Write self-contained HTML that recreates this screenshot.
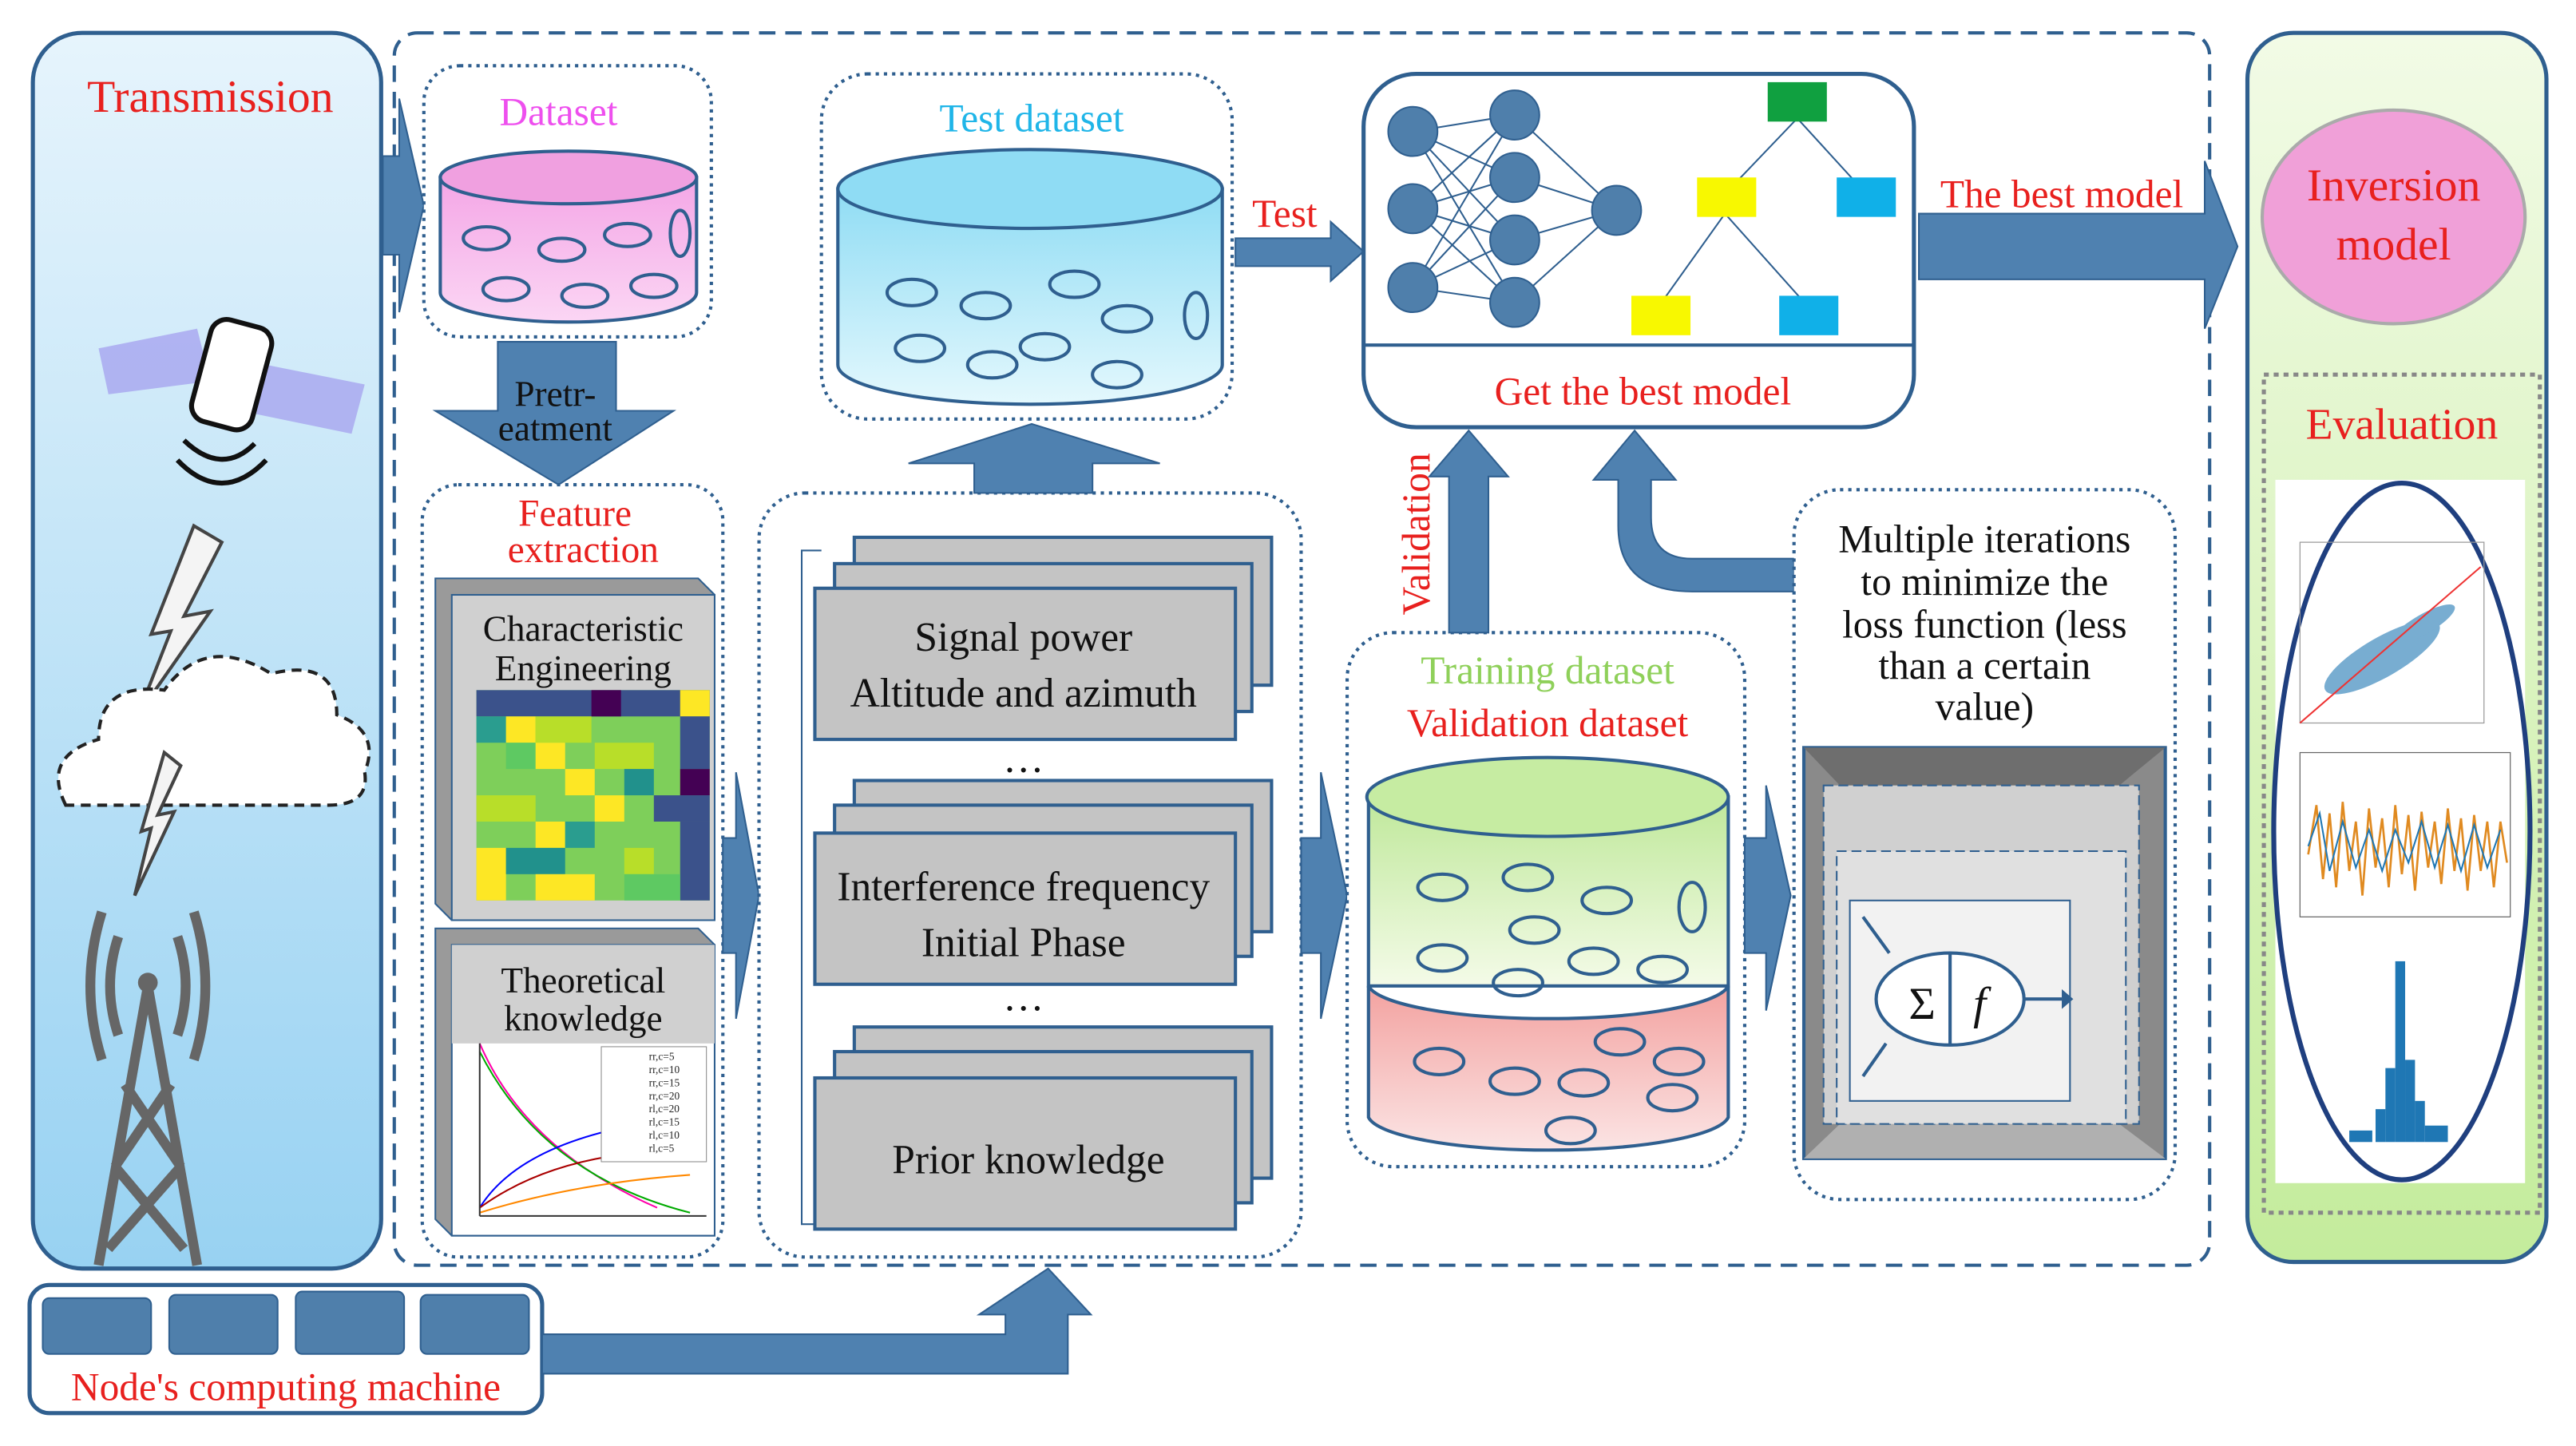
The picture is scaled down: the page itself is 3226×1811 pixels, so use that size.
<!DOCTYPE html>
<html><head><meta charset="utf-8"><style>
html,body{margin:0;padding:0;background:#fff;}
svg{display:block;}
text{font-family:"Liberation Serif",serif;}
</style></head><body>
<svg width="3226" height="1811" viewBox="0 0 1568 880" preserveAspectRatio="none" xmlns="http://www.w3.org/2000/svg">
<defs>
<linearGradient id="lb" x1="0" y1="0" x2="0" y2="1"><stop offset="0" stop-color="#e6f4fc"/><stop offset="1" stop-color="#98d2f2"/></linearGradient>
<linearGradient id="lg" x1="0" y1="0" x2="0" y2="1"><stop offset="0" stop-color="#f2fbe6"/><stop offset="1" stop-color="#c4ec9c"/></linearGradient>
<linearGradient id="pk" x1="0" y1="0" x2="0" y2="1"><stop offset="0" stop-color="#f4a6e6"/><stop offset="1" stop-color="#fbd6f4"/></linearGradient>
<linearGradient id="cy" x1="0" y1="0" x2="0" y2="1"><stop offset="0" stop-color="#8fdcf4"/><stop offset="1" stop-color="#e4f8fd"/></linearGradient>
<linearGradient id="gr" x1="0" y1="0" x2="0" y2="1"><stop offset="0" stop-color="#bfe89a"/><stop offset="1" stop-color="#f4fbe8"/></linearGradient>
<linearGradient id="rd" x1="0" y1="0" x2="0" y2="1"><stop offset="0" stop-color="#f3a2a0"/><stop offset="1" stop-color="#fbe4e4"/></linearGradient>
</defs>

<rect x="20" y="20" width="212" height="752" rx="30" fill="url(#lb)" stroke="#2f5f8f" stroke-width="2.5"/>
<text x="128" y="68" font-size="28" fill="#e8201e" text-anchor="middle">Transmission</text>
<polygon points="60,212 120,200 128,232 66,240" fill="#a9a9f0" opacity="0.85"/>
<polygon points="162,222 222,234 214,264 156,252" fill="#a9a9f0" opacity="0.85"/>
<rect x="122" y="196" width="38" height="64" rx="10" fill="#fff" stroke="#111" stroke-width="3" transform="rotate(15 141 228)"/>
<path d="M112,268 Q135,290 155,270 M108,280 Q135,308 162,280" fill="none" stroke="#111" stroke-width="3"/>
<polygon points="118,320 135,330 112,375 128,372 84,435 104,384 92,386" fill="#f4f4f4" stroke="#444" stroke-width="2"/>
<path d="M40,490 Q25,460 60,450 Q60,415 100,420 Q125,385 165,410 Q205,400 205,435 Q232,445 222,470 Q225,490 200,490 Z" fill="#fff" stroke="#222" stroke-width="2" stroke-dasharray="6,4"/>
<polygon points="100,458 110,466 96,496 106,494 82,545 92,504 86,506" fill="#f4f4f4" stroke="#444" stroke-width="2"/>
<g stroke="#666" stroke-width="6" fill="none">
<path d="M90,600 L60,770 M90,600 L120,770 M70,710 L112,760 M110,710 L66,760 M76,660 L110,710 M104,660 L70,710"/>
<path d="M72,570 Q62,600 72,630 M108,570 Q118,600 108,630 M62,555 Q48,600 62,645 M118,555 Q132,600 118,645"/>
</g>
<circle cx="90" cy="598" r="6" fill="#666"/>

<rect x="240" y="20" width="1105" height="750" rx="14" fill="none" stroke="#2f5f8f" stroke-width="2" stroke-dasharray="10,6"/>
<polygon points="233,95 243,95 243,60 258,125 243,190 243,155 233,155" fill="#4f81b0" stroke="#2f5f8f"/>

<rect x="258" y="40" width="175" height="165" rx="22" fill="#fff" stroke="#2f5f8f" stroke-width="2" stroke-dasharray="2,3"/>
<text x="340" y="76" font-size="24" fill="#ee4fee" text-anchor="middle">Dataset</text>
<path d="M268,108 L268,178 A78,18 0 0 0 424,178 L424,108 Z" fill="url(#pk)" stroke="#2f5f8f" stroke-width="2"/>
<ellipse cx="346" cy="108" rx="78" ry="16" fill="#f0a0e0" stroke="#2f5f8f" stroke-width="2"/>
<g fill="none" stroke="#2f5f8f" stroke-width="2">
<ellipse cx="296" cy="145" rx="14" ry="7"/><ellipse cx="342" cy="152" rx="14" ry="7"/><ellipse cx="382" cy="143" rx="14" ry="7"/>
<ellipse cx="308" cy="176" rx="14" ry="7"/><ellipse cx="356" cy="180" rx="14" ry="7"/><ellipse cx="398" cy="174" rx="14" ry="7"/>
<ellipse cx="414" cy="142" rx="6" ry="14"/></g>

<polygon points="303,208 375,208 375,250 410,250 340,295 265,250 303,250" fill="#4f81b0" stroke="#2f5f8f"/>
<text x="338" y="247" font-size="22" fill="#111" text-anchor="middle">Pretr-</text>
<text x="338" y="268" font-size="22" fill="#111" text-anchor="middle">eatment</text>

<rect x="257" y="295" width="183" height="470" rx="22" fill="#fff" stroke="#2f5f8f" stroke-width="2" stroke-dasharray="2,3"/>
<text x="350" y="320" font-size="23" fill="#e8201e" text-anchor="middle">Feature</text>
<text x="355" y="342" font-size="23" fill="#e8201e" text-anchor="middle">extraction</text>
<polygon points="265,352 425,352 435,362 435,560 275,560 265,550" fill="#9a9a9a" stroke="#2f5f8f"/>
<rect x="275" y="362" width="160" height="198" fill="#d0d0d0" stroke="#2f5f8f"/>
<text x="355" y="390" font-size="22" fill="#111" text-anchor="middle">Characteristic</text>
<text x="355" y="414" font-size="22" fill="#111" text-anchor="middle">Engineering</text>
<g>
<rect x="290" y="420" width="142" height="128" fill="#7ecf5a"/>
<rect x="290" y="420" width="142" height="16" fill="#3b528b"/>
<rect x="360" y="420" width="18" height="16" fill="#440154"/><rect x="414" y="420" width="18" height="16" fill="#fde725"/>
<rect x="290" y="436" width="18" height="16" fill="#2a9d8f"/><rect x="308" y="436" width="18" height="16" fill="#fde725"/><rect x="326" y="436" width="34" height="16" fill="#b8de29"/><rect x="414" y="436" width="18" height="32" fill="#3b528b"/>
<rect x="308" y="452" width="18" height="16" fill="#5ec962"/><rect x="326" y="452" width="18" height="16" fill="#fde725"/><rect x="362" y="452" width="36" height="16" fill="#b8de29"/>
<rect x="344" y="468" width="18" height="16" fill="#fde725"/><rect x="414" y="468" width="18" height="16" fill="#440154"/><rect x="380" y="468" width="18" height="16" fill="#21918c"/>
<rect x="290" y="484" width="36" height="16" fill="#b8de29"/><rect x="362" y="484" width="18" height="16" fill="#fde725"/><rect x="398" y="484" width="34" height="16" fill="#3b528b"/>
<rect x="326" y="500" width="18" height="16" fill="#fde725"/><rect x="344" y="500" width="18" height="16" fill="#2a9d8f"/><rect x="414" y="500" width="18" height="48" fill="#3b528b"/>
<rect x="290" y="516" width="18" height="32" fill="#fde725"/><rect x="308" y="516" width="36" height="16" fill="#21918c"/><rect x="380" y="516" width="18" height="16" fill="#b8de29"/>
<rect x="326" y="532" width="36" height="16" fill="#fde725"/><rect x="380" y="532" width="34" height="16" fill="#5ec962"/>
</g>
<polygon points="265,565 425,565 435,575 435,752 275,752 265,742" fill="#9a9a9a" stroke="#2f5f8f"/>
<rect x="275" y="575" width="160" height="177" fill="#fff" stroke="#2f5f8f"/>
<rect x="275" y="575" width="160" height="60" fill="#d0d0d0"/>
<text x="355" y="604" font-size="22" fill="#111" text-anchor="middle">Theoretical</text>
<text x="355" y="627" font-size="22" fill="#111" text-anchor="middle">knowledge</text>
<g fill="none" stroke-width="1">
<path d="M292,635 Q320,700 400,735" stroke="#f0a"/><path d="M292,640 Q330,715 420,738" stroke="#0a0"/>
<path d="M292,735 Q320,690 420,680" stroke="#00f"/><path d="M292,735 Q340,700 420,700" stroke="#a00"/>
<path d="M292,738 Q350,720 420,715" stroke="#f80"/><path d="M292,740 L292,635 M292,740 L430,740" stroke="#333"/></g>
<rect x="366" y="637" width="64" height="70" fill="#fff" stroke="#888" stroke-width="0.5"/>
<g font-size="6.5" fill="#222"><text x="395" y="645">rr,c=5</text><text x="395" y="653">rr,c=10</text><text x="395" y="661">rr,c=15</text><text x="395" y="669">rr,c=20</text><text x="395" y="677">rl,c=20</text><text x="395" y="685">rl,c=15</text><text x="395" y="693">rl,c=10</text><text x="395" y="701">rl,c=5</text></g>

<polygon points="440,510 448,510 448,470 462,545 448,620 448,580 440,580" fill="#4f81b0" stroke="#2f5f8f"/>

<rect x="462" y="300" width="330" height="465" rx="28" fill="#fff" stroke="#2f5f8f" stroke-width="2" stroke-dasharray="2,3"/>
<path d="M500,335 L488,335 L488,745 L500,745" fill="none" stroke="#2f5f8f"/>
<g fill="#c4c4c4" stroke="#2f5f8f" stroke-width="2">
<rect x="520" y="327" width="254" height="90"/><rect x="508" y="343" width="254" height="90"/><rect x="496" y="358" width="256" height="92"/>
<rect x="520" y="475" width="254" height="92"/><rect x="508" y="490" width="254" height="92"/><rect x="496" y="507" width="256" height="92"/>
<rect x="520" y="625" width="254" height="92"/><rect x="508" y="640" width="254" height="92"/><rect x="496" y="656" width="256" height="92"/>
</g>
<text x="623" y="396" font-size="25" fill="#111" text-anchor="middle">Signal power</text>
<text x="623" y="430" font-size="25" fill="#111" text-anchor="middle">Altitude and azimuth</text>
<text x="623" y="470" font-size="25" fill="#111" text-anchor="middle">…</text>
<text x="623" y="548" font-size="25" fill="#111" text-anchor="middle">Interference frequency</text>
<text x="623" y="582" font-size="25" fill="#111" text-anchor="middle">Initial Phase</text>
<text x="623" y="615" font-size="25" fill="#111" text-anchor="middle">…</text>
<text x="626" y="714" font-size="25" fill="#111" text-anchor="middle">Prior knowledge</text>

<polygon points="593,300 665,300 665,282 706,282 628,258 553,282 593,282" fill="#4f81b0" stroke="#2f5f8f"/>

<rect x="500" y="45" width="250" height="210" rx="28" fill="#fff" stroke="#2f5f8f" stroke-width="2" stroke-dasharray="2,3"/>
<text x="628" y="80" font-size="24" fill="#1fb5e8" text-anchor="middle">Test dataset</text>
<path d="M510,115 L510,222 A117,24 0 0 0 744,222 L744,115 Z" fill="url(#cy)" stroke="#2f5f8f" stroke-width="2"/>
<ellipse cx="627" cy="115" rx="117" ry="24" fill="#8fdcf4" stroke="#2f5f8f" stroke-width="2"/>
<g fill="none" stroke="#2f5f8f" stroke-width="2">
<ellipse cx="555" cy="178" rx="15" ry="8"/><ellipse cx="600" cy="186" rx="15" ry="8"/><ellipse cx="654" cy="173" rx="15" ry="8"/><ellipse cx="686" cy="194" rx="15" ry="8"/>
<ellipse cx="560" cy="212" rx="15" ry="8"/><ellipse cx="604" cy="222" rx="15" ry="8"/><ellipse cx="636" cy="211" rx="15" ry="8"/><ellipse cx="680" cy="228" rx="15" ry="8"/><ellipse cx="728" cy="192" rx="7" ry="14"/></g>

<polygon points="752,145 810,145 810,135 830,153 810,171 810,162 752,162" fill="#4f81b0" stroke="#2f5f8f"/>
<text x="782" y="138" font-size="24" fill="#e8201e" text-anchor="middle">Test</text>

<rect x="830" y="45" width="335" height="215" rx="32" fill="#fff" stroke="#2f5f8f" stroke-width="2.5"/>
<line x1="830" y1="210" x2="1165" y2="210" stroke="#2f5f8f" stroke-width="2"/>
<text x="1000" y="246" font-size="24" fill="#e8201e" text-anchor="middle">Get the best model</text>
<g stroke="#2f5f8f" stroke-width="1">
<path d="M860,80 L922,70 M860,80 L922,108 M860,80 L922,146 M860,80 L922,184 M860,127 L922,70 M860,127 L922,108 M860,127 L922,146 M860,127 L922,184 M860,175 L922,70 M860,175 L922,108 M860,175 L922,146 M860,175 L922,184 M922,70 L984,128 M922,108 L984,128 M922,146 L984,128 M922,184 L984,128"/>
<path d="M1094,72 L1050,118 M1094,72 L1136,118 M1050,130 L1010,186 M1050,130 L1100,186"/>
</g>
<g fill="#4f7fab" stroke="#2f5f8f"><circle cx="860" cy="80" r="15"/><circle cx="860" cy="127" r="15"/><circle cx="860" cy="175" r="15"/>
<circle cx="922" cy="70" r="15"/><circle cx="922" cy="108" r="15"/><circle cx="922" cy="146" r="15"/><circle cx="922" cy="184" r="15"/><circle cx="984" cy="128" r="15"/></g>
<rect x="1076" y="50" width="36" height="24" fill="#10a040"/>
<rect x="1033" y="108" width="36" height="24" fill="#f8f800"/>
<rect x="1118" y="108" width="36" height="24" fill="#10b0e8"/>
<rect x="993" y="180" width="36" height="24" fill="#f8f800"/>
<rect x="1083" y="180" width="36" height="24" fill="#10b0e8"/>

<polygon points="1168,130 1342,130 1342,98 1362,150 1342,200 1342,170 1168,170" fill="#4f81b0" stroke="#2f5f8f"/>
<text x="1255" y="126" font-size="24" fill="#e8201e" text-anchor="middle">The best model</text>

<rect x="1368" y="20" width="182" height="748" rx="28" fill="url(#lg)" stroke="#2f5f8f" stroke-width="2.5"/>
<ellipse cx="1457" cy="132" rx="80" ry="65" fill="#f0a0d8" stroke="#aaa" stroke-width="2"/>
<text x="1457" y="122" font-size="28" fill="#e8201e" text-anchor="middle">Inversion</text>
<text x="1457" y="158" font-size="28" fill="#e8201e" text-anchor="middle">model</text>
<rect x="1378" y="228" width="168" height="510" fill="none" stroke="#888" stroke-width="2.5" stroke-dasharray="3,3"/>
<text x="1462" y="267" font-size="27" fill="#e8201e" text-anchor="middle">Evaluation</text>
<rect x="1385" y="292" width="152" height="428" fill="#fff"/>
<ellipse cx="1462" cy="506" rx="78" ry="212" fill="none" stroke="#1f3f7f" stroke-width="3"/>
<rect x="1400" y="330" width="112" height="110" fill="none" stroke="#999" stroke-width="0.6"/>
<g fill="#1f77b4" opacity="0.6"><ellipse cx="1450" cy="400" rx="40" ry="12" transform="rotate(-30 1450 400)"/><ellipse cx="1475" cy="380" rx="22" ry="6" transform="rotate(-30 1475 380)"/></g>
<line x1="1400" y1="440" x2="1510" y2="345" stroke="#e33" stroke-width="1"/>
<rect x="1400" y="458" width="128" height="100" fill="none" stroke="#666" stroke-width="0.6"/>
<path d="M1405,520 L1410,490 L1414,535 L1418,495 L1422,540 L1426,488 L1430,530 L1434,500 L1438,545 L1442,492 L1446,528 L1450,498 L1454,540 L1458,490 L1462,532 L1466,496 L1470,542 L1474,494 L1478,528 L1482,500 L1486,538 L1490,492 L1494,530 L1498,498 L1502,542 L1506,496 L1510,530 L1514,500 L1518,540 L1522,500 L1526,525" fill="none" stroke="#e08a20" stroke-width="1.3"/>
<path d="M1405,515 L1412,495 L1418,530 L1426,500 L1434,528 L1442,505 L1450,530 L1458,505 L1466,525 L1474,500 L1482,528 L1490,502 L1498,530 L1506,502 L1514,528 L1522,505" fill="none" stroke="#1f77b4" stroke-width="1"/>
<g fill="#1f77b4"><rect x="1458" y="585" width="6" height="110"/><rect x="1452" y="650" width="6" height="45"/><rect x="1464" y="645" width="6" height="50"/><rect x="1446" y="675" width="6" height="20"/><rect x="1470" y="670" width="6" height="25"/><rect x="1430" y="688" width="14" height="7"/><rect x="1476" y="685" width="14" height="10"/></g>

<polygon points="792,510 804,510 804,470 820,545 804,620 804,580 792,580" fill="#4f81b0" stroke="#2f5f8f"/>

<rect x="820" y="385" width="242" height="325" rx="28" fill="#fff" stroke="#2f5f8f" stroke-width="2" stroke-dasharray="2,3"/>
<text x="942" y="416" font-size="24" fill="#8fd05a" text-anchor="middle">Training dataset</text>
<text x="942" y="448" font-size="24" fill="#e8201e" text-anchor="middle">Validation dataset</text>
<path d="M833,485 L833,600 L1052,600 L1052,485 Z" fill="url(#gr)" stroke="#2f5f8f" stroke-width="2"/>
<path d="M833,600 L833,680 A110,22 0 0 0 1052,680 L1052,600 A110,22 0 0 1 833,600 Z" fill="url(#rd)" stroke="#2f5f8f" stroke-width="2"/>
<ellipse cx="942" cy="485" rx="110" ry="24" fill="#c6eca2" stroke="#2f5f8f" stroke-width="2"/>
<g fill="none" stroke="#2f5f8f" stroke-width="2">
<ellipse cx="878" cy="540" rx="15" ry="8"/><ellipse cx="930" cy="534" rx="15" ry="8"/><ellipse cx="978" cy="548" rx="15" ry="8"/><ellipse cx="934" cy="566" rx="15" ry="8"/>
<ellipse cx="878" cy="583" rx="15" ry="8"/><ellipse cx="924" cy="598" rx="15" ry="8"/><ellipse cx="970" cy="585" rx="15" ry="8"/><ellipse cx="1012" cy="590" rx="15" ry="8"/><ellipse cx="1030" cy="552" rx="8" ry="15"/>
<ellipse cx="876" cy="646" rx="15" ry="8"/><ellipse cx="922" cy="658" rx="15" ry="8"/><ellipse cx="964" cy="659" rx="15" ry="8"/><ellipse cx="986" cy="634" rx="15" ry="8"/><ellipse cx="1022" cy="646" rx="15" ry="8"/><ellipse cx="1018" cy="668" rx="15" ry="8"/><ellipse cx="956" cy="688" rx="15" ry="8"/></g>

<polygon points="882,385 906,385 906,290 918,290 894,262 870,290 882,290" fill="#4f81b0" stroke="#2f5f8f"/>
<text x="0" y="0" font-size="24" fill="#e8201e" text-anchor="middle" transform="translate(870 325) rotate(-90)">Validation</text>

<path d="M1092,340 L1030,340 Q1005,340 1005,315 L1005,292 L1020,292 L995,262 L970,292 L985,292 L985,320 Q985,360 1030,360 L1092,360 Z" fill="#4f81b0" stroke="#2f5f8f"/>

<polygon points="1062,510 1075,510 1075,478 1090,545 1075,615 1075,580 1062,580" fill="#4f81b0" stroke="#2f5f8f"/>

<rect x="1092" y="298" width="232" height="432" rx="28" fill="#fff" stroke="#2f5f8f" stroke-width="2" stroke-dasharray="2,3"/>
<g font-size="24" fill="#111" text-anchor="middle">
<text x="1208" y="336">Multiple iterations</text><text x="1208" y="362">to minimize the</text><text x="1208" y="388">loss function (less</text><text x="1208" y="413">than a certain</text><text x="1208" y="438">value)</text></g>
<rect x="1098" y="455" width="220" height="250" fill="#8a8a8a" stroke="#2f5f8f" stroke-width="2"/>
<polygon points="1098,455 1318,455 1290,478 1120,478" fill="#6e6e6e"/>
<polygon points="1098,705 1318,705 1290,684 1120,684" fill="#b0b0b0"/>
<rect x="1110" y="478" width="192" height="206" fill="#d0d0d0" stroke="#2f5f8f" stroke-dasharray="6,3"/>
<rect x="1118" y="518" width="176" height="166" fill="#e0e0e0" stroke="#2f5f8f" stroke-dasharray="6,3"/>
<rect x="1126" y="548" width="134" height="122" fill="#f2f2f2" stroke="#2f5f8f"/>
<ellipse cx="1187" cy="608" rx="45" ry="28" fill="#fff" stroke="#2f5f8f" stroke-width="2"/>
<line x1="1187" y1="580" x2="1187" y2="636" stroke="#2f5f8f" stroke-width="2"/>
<text x="1170" y="620" font-size="28" fill="#111" text-anchor="middle">Σ</text>
<text x="1205" y="620" font-size="28" font-style="italic" fill="#111" text-anchor="middle">f</text>
<g stroke="#2f5f8f" stroke-width="2" fill="none"><path d="M1134,558 L1150,580 M1134,655 L1148,635 M1232,608 L1255,608"/></g>
<polygon points="1255,602 1262,608 1255,614" fill="#2f5f8f"/>

<rect x="18" y="782" width="312" height="78" rx="12" fill="#fff" stroke="#2f5f8f" stroke-width="2.5"/>
<g fill="#4f7fab" stroke="#2f5f8f"><rect x="26" y="790" width="66" height="34" rx="4"/><rect x="103" y="788" width="66" height="36" rx="4"/><rect x="180" y="786" width="66" height="38" rx="4"/><rect x="256" y="788" width="66" height="36" rx="4"/></g>
<text x="174" y="852" font-size="24" fill="#e8201e" text-anchor="middle">Node's computing machine</text>
<polygon points="330,812 612,812 612,800 596,800 638,772 664,800 650,800 650,836 330,836" fill="#4f81b0" stroke="#2f5f8f"/>
</svg>
</body></html>
